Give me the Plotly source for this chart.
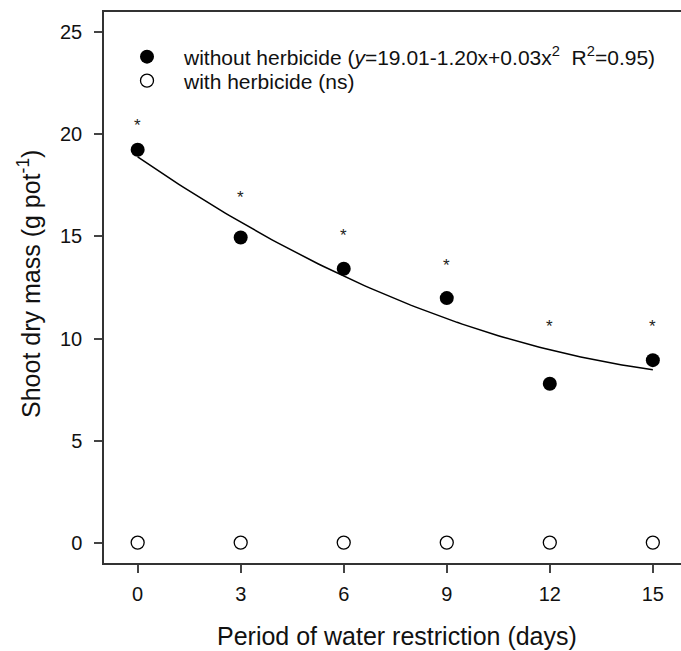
import plotly.graph_objects as go
import numpy as np

# Data
days = [0, 3, 6, 9, 12, 15]
without_herbicide = [19.25, 14.95, 13.42, 11.98, 7.78, 8.94]
with_herbicide = [0, 0, 0, 0, 0, 0]
star_y = [20.65, 17.1, 15.23, 13.76, 10.8, 10.8]
# fitted quadratic coefficients (as drawn): a + b*x + c*x^2
fit_a, fit_b, fit_c = 18.9, -1.16, 0.031
x_ticks = [0, 3, 6, 9, 12, 15]
y_ticks = [0, 5, 10, 15, 20, 25]

xf = np.linspace(0, 15, 101)
yf = fit_a + fit_b * xf + fit_c * xf ** 2

FONT = "Liberation Sans, Arial, sans-serif"
fig = go.Figure()

fig.add_trace(go.Scatter(x=xf, y=yf, mode="lines", line=dict(color="black", width=1.5),
                         showlegend=False, hoverinfo="skip"))
fig.add_trace(go.Scatter(
    x=days, y=without_herbicide, mode="markers",
    marker=dict(color="black", size=14, line=dict(color="black", width=0)),
    name="without herbicide (<i>y</i>=19.01-1.20x+0.03x<sup>2</sup>\u00a0\u00a0R<sup>2</sup>=0.95)",
    legend="legend"))
fig.add_trace(go.Scatter(
    x=days, y=with_herbicide, mode="markers",
    marker=dict(color="white", size=13, line=dict(color="black", width=1.3)),
    name="with herbicide (ns)", cliponaxis=False, legend="legend2"))

for xv, yv in zip(days, star_y):
    fig.add_annotation(x=xv, y=yv, text="*", showarrow=False, yshift=-4,
                       font=dict(family=FONT, size=17, color="#222"))

fig.add_annotation(xref="paper", yref="paper", x=0.5, y=0, yanchor="middle", yshift=-(636 - 563),
                   xshift=(397 - (104 + 577 / 2)),
                   text="Period of water restriction (days)", showarrow=False,
                   font=dict(family=FONT, size=25, color="#111"))
fig.add_annotation(xref="paper", yref="paper", x=0, xanchor="center", xshift=-(104 - 29),
                   y=0.5, yanchor="middle", yshift=(287.5 - 284),
                   text="Shoot dry mass (g pot<sup>-1</sup>)", textangle=-90, showarrow=False,
                   font=dict(family=FONT, size=25, color="#111"))

axis_common = dict(showgrid=False, zeroline=False, showline=True, linecolor="#333", linewidth=1.5,
                   ticks="outside", ticklen=8, tickwidth=1.5, tickcolor="#444",
                   tickfont=dict(family=FONT, size=20, color="#111"))
fig.update_xaxes(range=[-0.98, 15.82], tickvals=x_ticks, mirror=True, ticklabelstandoff=4, **axis_common)
fig.update_yaxes(range=[-1, 26], tickvals=y_ticks, mirror=False, ticklabelstandoff=8, **axis_common)

leg_common = dict(xanchor="left", yanchor="middle", bgcolor="rgba(0,0,0,0)",
                  font=dict(family=FONT, size=21, color="#111"), itemwidth=64)
fig.update_layout(
    width=681, height=651,
    margin=dict(l=104, r=0, t=12, b=88),
    plot_bgcolor="white", paper_bgcolor="white",
    font=dict(family=FONT, color="#111"),
    legend=dict(x=(110 - 104) / 577, y=1 - (57 - 12) / 551, **leg_common),
    legend2=dict(x=(110 - 104) / 577, y=1 - (81 - 12) / 551, **leg_common),
)
fig.write_html("out.html")
